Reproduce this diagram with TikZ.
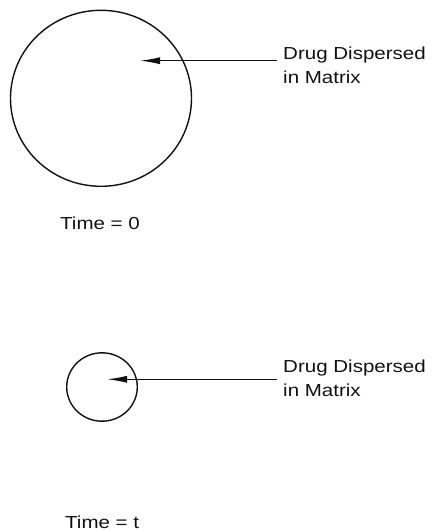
\documentclass[tikz,border=0pt]{standalone}
\usepackage{fontspec}
\setmainfont[FakeStretch=1.18]{Liberation Sans}
\usepackage{tikz}
\usetikzlibrary{arrows.meta, positioning, shapes.geometric}
\definecolor{InkBlack}{HTML}{111111}

\tikzset{
    matrixdisc/.style={draw=InkBlack, ellipse, line width=1.4pt, inner sep=0pt},
    pointer/.style={-{Latex[length=20pt,width=7pt]}, line width=1.3pt, draw=InkBlack},
    caption/.style={anchor=north west, inner sep=0pt, align=left, text=InkBlack,
        font={\fontsize{17.4}{24}\selectfont}}
}

\begin{document}
\begin{tikzpicture}[x=1pt, y=-1pt]
\useasboundingbox (0,0) rectangle (435,531);

% time = 0
\node[matrixdisc, minimum width=181pt, minimum height=176pt] (disc0) at (101,98.3) {};
\coordinate (tip0) at (140,60.7);
\node[caption] (lbl0) at (283,46.5) {Drug Dispersed\\in Matrix};
\draw[pointer] ([xshift=-6pt]lbl0.west |- tip0) -- (tip0);
\node[caption] (time0) at (60,216.7) {Time = 0};

% time = t
\node[matrixdisc, minimum width=70.6pt, minimum height=68.4pt] (disct) at (102,387) {};
\coordinate (tipt) at (107,379.3);
\node[caption] (lblt) at (283,359.3) {Drug Dispersed\\in Matrix};
\draw[pointer] ([xshift=-6pt]lblt.west |- tipt) -- (tipt);
\node[caption] (timet) at (65,515.5) {Time = t};
\end{tikzpicture}
\end{document}
